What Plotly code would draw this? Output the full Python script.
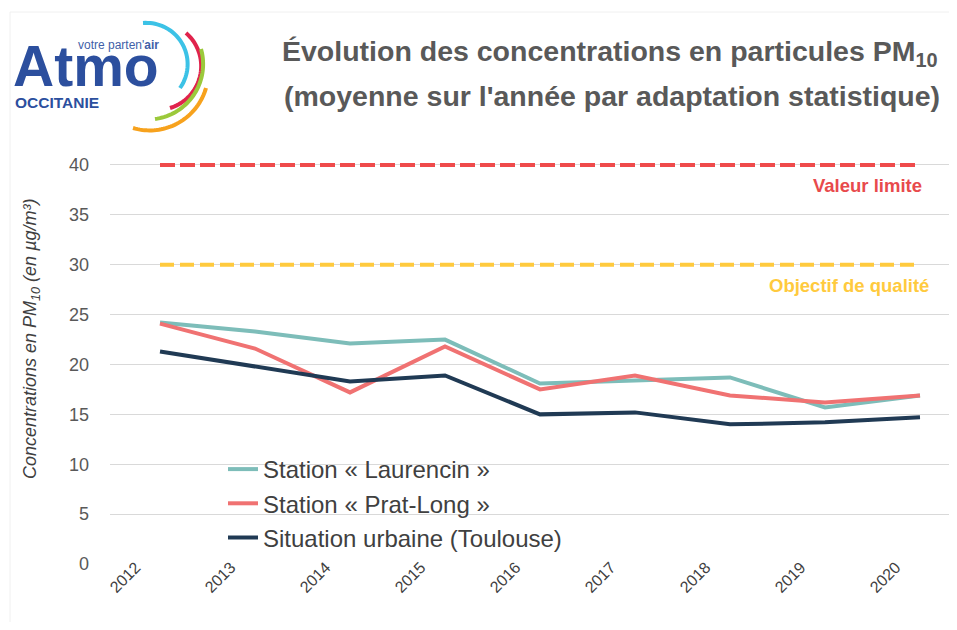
import numpy as np
import plotly.graph_objects as go

# %% data
years = [2012, 2013, 2014, 2015, 2016, 2017, 2018, 2019, 2020]
laurencin = [24.2, 23.3, 22.1, 22.5, 18.1, 18.4, 18.7, 15.7, 16.9]
prat_long = [24.1, 21.6, 17.2, 21.8, 17.5, 18.9, 16.9, 16.2, 16.9]
urbaine = [21.3, 19.8, 18.3, 18.9, 15.0, 15.2, 14.0, 14.2, 14.7]

valeur_limite = 40
objectif_qualite = 30

series_names = ['Station « Laurencin »', 'Station « Prat-Long »', 'Situation urbaine (Toulouse)']
series_colors = ['#7dbdb9', '#f07272', '#203a54']

# %% layout helpers
# the page body has an 8px margin, so the figure is drawn 8px in from the corner
OFF = 8
W, H = 957 - 2 * OFF, 630 - 2 * OFF
L, R, T, B = 102, 0, 152, 58
Y_TOP = 40.5  # a bit of room so the 40 line is not clipped


def px(x):
    # screen pixel -> paper x
    return (x - OFF - L) / (W - L - R)


def py(y):
    # screen pixel -> paper y
    return (H - B - (y - OFF)) / (H - T - B)


def circle_3pts(p1, p2, p3):
    (x1, y1), (x2, y2), (x3, y3) = p1, p2, p3
    d = 2 * (x1 * (y2 - y3) + x2 * (y3 - y1) + x3 * (y1 - y2))
    ux = ((x1**2 + y1**2) * (y2 - y3) + (x2**2 + y2**2) * (y3 - y1) + (x3**2 + y3**2) * (y1 - y2)) / d
    uy = ((x1**2 + y1**2) * (x3 - x2) + (x2**2 + y2**2) * (x1 - x3) + (x3**2 + y3**2) * (x2 - x1)) / d
    return ux, uy, np.hypot(x1 - ux, y1 - uy)


def arc_path(p1, p2, p3):
    cx, cy, r = circle_3pts(p1, p2, p3)
    a0 = np.arctan2(p1[1] - cy, p1[0] - cx)
    a1 = np.arctan2(p3[1] - cy, p3[0] - cx)
    if a1 < a0:
        a1 += 2 * np.pi
    pts = [(cx + r * np.cos(a), cy + r * np.sin(a)) for a in np.linspace(a0, a1, 40)]
    return 'M' + ' L'.join(f'{px(x):.5f},{py(y):.5f}' for x, y in pts)


# %% figure
fig = go.Figure()

for name, vals, col in zip(series_names, [laurencin, prat_long, urbaine], series_colors):
    fig.add_trace(go.Scatter(x=years, y=vals, name=name, mode='lines',
                             line=dict(color=col, width=4), legendgroup=name))

# seuils
fig.add_trace(go.Scatter(x=[years[0], years[-1]], y=[valeur_limite] * 2, mode='lines',
                         line=dict(color='#ef4a4b', width=4, dash='15px,5px'), showlegend=False))
fig.add_trace(go.Scatter(x=[years[0], years[-1]], y=[objectif_qualite] * 2, mode='lines',
                         line=dict(color='#ffca3e', width=4, dash='14px,6px'), showlegend=False))

FONT = 'Liberation Sans, Arial'

fig.add_annotation(x=years[-1], y=valeur_limite, xref='x', yref='y', xanchor='right', yanchor='middle',
                   yshift=-21, xshift=4, text='<b>Valeur limite</b>', showarrow=False,
                   font=dict(family=FONT, size=18.5, color='#e84a4c'))
fig.add_annotation(x=years[-1], y=objectif_qualite, xref='x', yref='y', xanchor='right', yanchor='middle',
                   yshift=-21, xshift=11, text='<b>Objectif de qualité</b>', showarrow=False,
                   font=dict(family=FONT, size=18.5, color='#ffca3e'))

# titre (deux lignes)
fig.add_annotation(x=px(610), y=py(53), xref='paper', yref='paper', xanchor='center', yanchor='middle',
                   text='<b>Évolution des concentrations en particules PM<sub>10</sub></b>',
                   showarrow=False, font=dict(family=FONT, size=28.5, color='#595959'))
fig.add_annotation(x=px(612), y=py(96), xref='paper', yref='paper', xanchor='center', yanchor='middle',
                   text='<b>(moyenne sur l\'année par adaptation statistique)</b>',
                   showarrow=False, font=dict(family=FONT, size=28.5, color='#595959'))

# titre axe y
fig.add_annotation(x=px(31), y=py(339), xref='paper', yref='paper', xanchor='center', yanchor='middle',
                   textangle=-90, showarrow=False,
                   text='<i>Concentrations en PM<sub>10</sub> (en µg/m³)</i>',
                   font=dict(family=FONT, size=18, color='#404040'))

# logo
fig.add_annotation(x=px(11), y=py(66), xref='paper', yref='paper', xanchor='left', yanchor='middle',
                   text='<b>Atmo</b>', showarrow=False,
                   font=dict(family=FONT, size=57, color='#2c4f9e'))
fig.add_annotation(x=px(76), y=py(45), xref='paper', yref='paper', xanchor='left', yanchor='middle',
                   text="votre parten'<b>air</b>", showarrow=False,
                   font=dict(family=FONT, size=12, color='#3f5fa8'))
fig.add_annotation(x=px(13), y=py(102), xref='paper', yref='paper', xanchor='left', yanchor='middle',
                   text='<b>OCCITANIE</b>', showarrow=False,
                   font=dict(family=FONT, size=15.5, color='#2c4f9e'))

arcs = [
    ((143, 23), (187, 57), (180, 88), '#3cc2e6'),
    ((186, 33), (201, 70), (170, 108), '#e0234c'),
    ((201, 49), (199, 85), (155, 119), '#9bc93b'),
    ((206, 88), (187, 117), (133, 128), '#f7a21d'),
]
for p1, p2, p3, col in arcs:
    fig.add_shape(type='path', xref='paper', yref='paper', path=arc_path(p1, p2, p3),
                  line=dict(color=col, width=4))

# cadre très clair autour de l'image
fig.add_shape(type='path', xref='paper', yref='paper',
              path=f'M{px(10)},{py(640)} L{px(10)},{py(12)} L{px(960)},{py(12)}',
              line=dict(color='#f0f0f0', width=1))

# fond blanc derrière la légende (masque les quadrillages)
fig.add_shape(type='rect', xref='paper', yref='paper', x0=px(132), x1=1, y0=py(556), y1=py(452),
              fillcolor='white', line=dict(width=0), layer='between')

fig.update_layout(
    width=W, height=H,
    margin=dict(l=L, r=R, t=T, b=B),
    paper_bgcolor='white', plot_bgcolor='white',
    font=dict(family=FONT, color='#595959'),
    showlegend=True,
    legend=dict(x=px(223), y=py(447), xanchor='left', yanchor='top',
                bgcolor='rgba(0,0,0,0)', tracegroupgap=0,
                font=dict(family=FONT, size=24, color='#404040')),
    xaxis=dict(range=[years[0] - 50 / 95, years[0] - 50 / 95 + (W - L - R) / 95],
               tickvals=years, ticktext=[str(y) for y in years], tickangle=-45,
               showgrid=False, zeroline=False, showline=False, ticks='',
               ticklabelshift=-24, ticklabelstandoff=-10,
               tickfont=dict(family=FONT, size=16, color='#404040')),
    yaxis=dict(range=[0, Y_TOP], tickvals=list(range(0, 41, 5)), showgrid=True,
               gridcolor='#d9d9d9', gridwidth=1,
               zeroline=False, showline=False, ticks='', ticklabelstandoff=20,
               tickfont=dict(family=FONT, size=18, color='#595959')),
)
for tr in fig.data:
    tr.cliponaxis = False

fig.write_html('out.html')
